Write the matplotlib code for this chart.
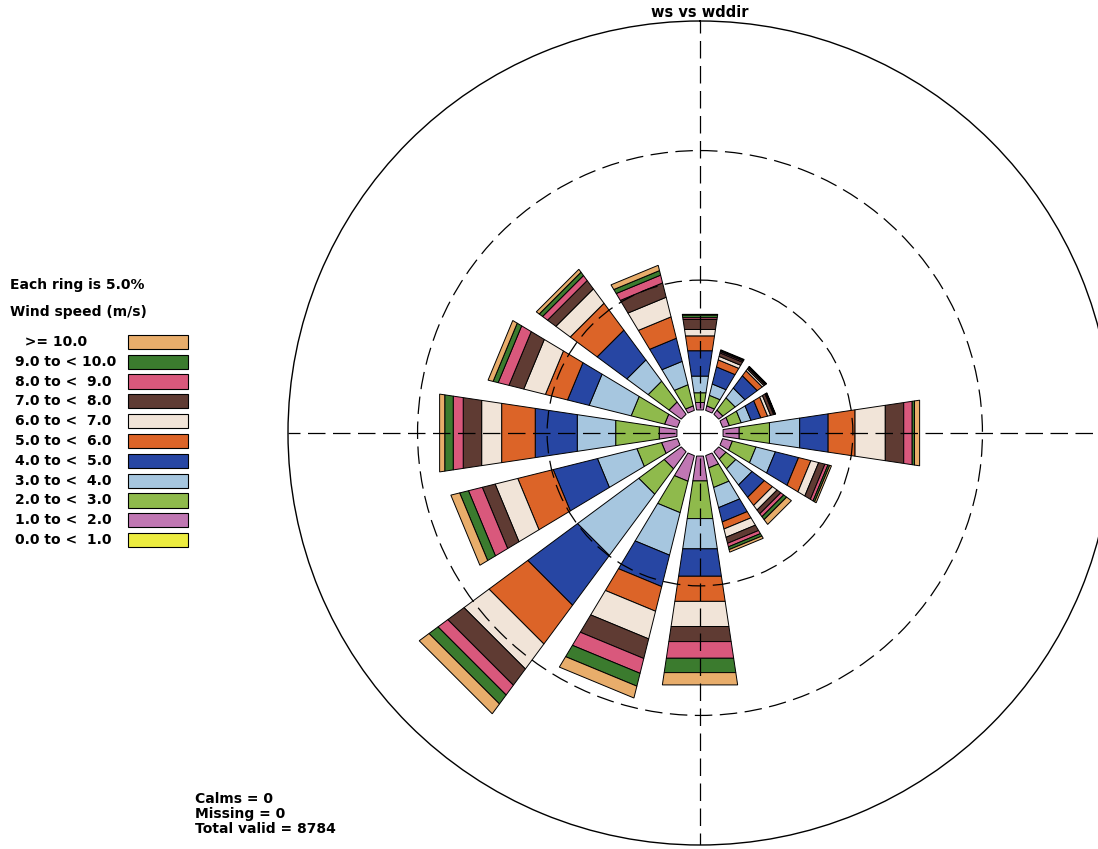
import numpy as np
import matplotlib.pyplot as plt

W, H = 1098, 849

directions = ['N', 'NNE', 'NE', 'ENE', 'E', 'ESE', 'SE', 'SSE',
              'S', 'SSW', 'SW', 'WSW', 'W', 'WNW', 'NW', 'NNW']
dir_deg = np.arange(16) * 22.5

speed_labels = ['0.0 to <  1.0', '1.0 to <  2.0', '2.0 to <  3.0', '3.0 to <  4.0',
                '4.0 to <  5.0', '5.0 to <  6.0', '6.0 to <  7.0', '7.0 to <  8.0',
                '8.0 to <  9.0', '9.0 to < 10.0', '  >= 10.0']
speed_colors = ['#ecec40', '#c077b3', '#8fba4c', '#a6c6df', '#2746a3', '#dc6428',
                '#f1e4d8', '#5f3b33', '#d9587c', '#3b7b2e', '#e8ad6b']

# percent of hours per direction (N, NNE, ... NNW) for each speed class
freq_0_1 = [0.0] * 16
freq_1_2 = [0.29, 0.18, 0.20, 0.27, 0.63, 0.39, 0.35, 0.49, 0.97, 1.02, 0.82, 0.63, 0.69, 0.51, 0.59, 0.18]
freq_2_3 = [0.38, 0.42, 0.59, 0.47, 1.18, 0.94, 0.47, 0.78, 1.47, 1.25, 1.22, 0.98, 1.70, 1.33, 1.00, 0.84]
freq_3_4 = [0.65, 0.45, 0.47, 0.39, 1.18, 0.77, 0.78, 0.80, 1.18, 1.69, 2.94, 1.57, 1.50, 1.67, 1.02, 0.93]
freq_4_5 = [0.99, 0.68, 0.59, 0.39, 1.11, 0.92, 0.59, 0.57, 1.07, 1.25, 2.39, 1.76, 1.64, 0.86, 1.43, 0.92]
freq_5_6 = [0.58, 0.28, 0.24, 0.27, 1.05, 0.49, 0.39, 0.28, 0.98, 0.98, 1.86, 1.41, 1.31, 0.88, 1.29, 0.85]
freq_6_7 = [0.25, 0.14, 0.08, 0.12, 1.18, 0.31, 0.22, 0.33, 0.98, 1.10, 1.20, 0.90, 0.78, 0.86, 0.69, 0.78]
freq_7_8 = [0.39, 0.14, 0.06, 0.12, 0.72, 0.25, 0.18, 0.24, 0.59, 0.78, 0.78, 0.51, 0.72, 0.59, 0.40, 0.57]
freq_8_9 = [0.07, 0.05, 0.03, 0.04, 0.33, 0.12, 0.14, 0.14, 0.65, 0.59, 0.47, 0.55, 0.39, 0.43, 0.24, 0.31]
freq_9_10 = [0.10, 0.04, 0.02, 0.02, 0.09, 0.07, 0.14, 0.11, 0.56, 0.51, 0.43, 0.35, 0.33, 0.20, 0.16, 0.18]
freq_10_up = [0.03, 0.03, 0.02, 0.02, 0.20, 0.07, 0.23, 0.10, 0.48, 0.47, 0.47, 0.35, 0.20, 0.20, 0.14, 0.21]

freqs = [freq_0_1, freq_1_2, freq_2_3, freq_3_4, freq_4_5, freq_5_6,
         freq_6_7, freq_7_8, freq_8_9, freq_9_10, freq_10_up]

ring_step = 5.0
calm_r = 0.9   # empty circle in the middle
half_w = np.radians(8.5)

fig = plt.figure(figsize=(W / 100, H / 100), dpi=100)
cx, cy, R = 700, 433, 412
ax = fig.add_axes([(cx - R) / W, (H - cy - R) / H, 2 * R / W, 2 * R / H], projection='polar')
ax.set_theta_zero_location('N')
ax.set_theta_direction(-1)

# stacked wedges with straight ends (polygons, so edges are chords, not arcs)
bottom = np.full(16, calm_r)
for vals, col in zip(freqs, speed_colors):
    vals = np.array(vals)
    for th, b, h in zip(np.radians(dir_deg), bottom, vals):
        if h <= 0:
            continue
        ax.fill([th - half_w, th + half_w, th + half_w, th - half_w],
                [b, b, b + h, b + h], facecolor=col, edgecolor='black',
                linewidth=0.7, zorder=1)
    bottom = bottom + vals

ax.set_ylim(0, calm_r + 3 * ring_step)
ax.set_yticks([calm_r + ring_step, calm_r + 2 * ring_step])
ax.set_yticklabels([])
ax.set_xticks(np.radians([0, 90, 180, 270]))
ax.set_xticklabels([])
ax.tick_params(length=0)
ax.grid(True, color='black', linestyle=(0, (14, 6)), linewidth=0.9)
ax.set_axisbelow(False)
ax.spines['polar'].set_linewidth(1.0)
ax.set_title('ws vs wddir', pad=3, fontsize=10.5, fontweight='bold')

fig.text(10 / W, 1 - 285 / H, 'Each ring is 5.0%', ha='left', va='center',
         fontsize=10, fontweight='bold')
fig.text(10 / W, 1 - 312 / H, 'Wind speed (m/s)', ha='left', va='center',
         fontsize=10, fontweight='bold')

# legend: one row per speed class, top row is the fastest class
lax = fig.add_axes([0, (H - 550) / H, 200 / W, 218 / H])
rows = np.arange(len(speed_labels))
lax.barh(rows, 60, left=128, height=0.72, color=speed_colors[::-1],
         edgecolor='black', linewidth=0.8)
for i, lab in zip(rows, speed_labels[::-1]):
    lax.text(15, i, lab, ha='left', va='center', fontsize=10, fontweight='bold')
lax.set_xlim(0, 200)
lax.set_ylim(len(rows) - 0.5, -0.5)
lax.axis('off')

fig.text(195 / W, 1 - 792 / H, 'Calms = 0\nMissing = 0\nTotal valid = 8784',
         ha='left', va='top', fontsize=10, fontweight='bold', linespacing=1.1)

fig.savefig('out.png', dpi=100)
